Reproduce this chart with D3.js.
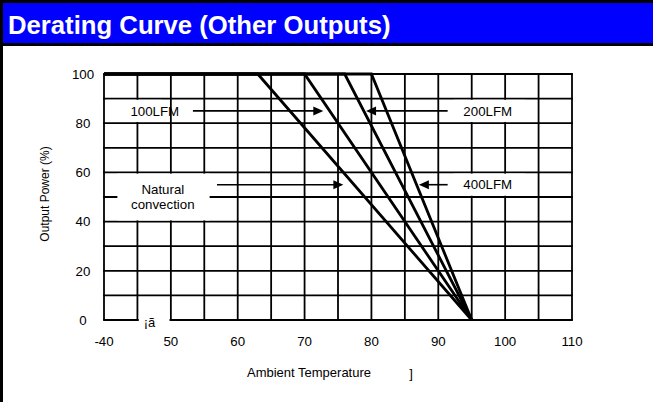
<!DOCTYPE html>
<html>
<head>
<meta charset="utf-8">
<script src="https://cdn.jsdelivr.net/npm/d3@7"></script>
<style>
body { margin: 0; background: #fff; }
text { font-family: "Liberation Sans", Arial, sans-serif; }
</style>
</head>
<body>
<svg width="653" height="402"></svg>
<script>
// chart values
var xTicks = [40, 50, 60, 70, 80, 90, 100, 110];
var xTickLabels = ["-40", "50", "60", "70", "80", "90", "100", "110"];
var yTicks = [0, 20, 40, 60, 80, 100];
var curveNames = ["Natural convection", "100LFM", "200LFM", "400LFM"];
var curveTemps = [[40, 63, 95], [40, 70, 95], [40, 76, 95], [40, 80, 95]];
var curvePower = [[100, 100, 0], [100, 100, 0], [100, 100, 0], [100, 100, 0]];

var svg = d3.select("svg");
var W = 653, H = 402;

// page frame + title bar
svg.append("rect").attr("x", 0).attr("y", 0).attr("width", W).attr("height", 46).attr("fill", "#000");
svg.append("rect").attr("x", 3).attr("y", 3).attr("width", W - 3).attr("height", 40).attr("fill", "#0000ff");
svg.append("rect").attr("x", 0).attr("y", 0).attr("width", 3).attr("height", H).attr("fill", "#000");
svg.append("text")
  .attr("x", 8).attr("y", 34)
  .attr("fill", "#fff")
  .style("font-size", "25.7px")
  .style("font-weight", "bold")
  .text("Derating Curve (Other Outputs)");

var x = d3.scaleLinear().domain([40, 110]).range([104, 572]);
var y = d3.scaleLinear().domain([0, 100]).range([320, 74]);

var g = svg.append("g");

// grid every 5 degrees / 10 %
var xGrid = d3.range(40, 111, 5);
var yGrid = d3.range(0, 101, 10);
g.selectAll(".vg").data(xGrid).enter().append("line")
  .attr("x1", d => x(d)).attr("x2", d => x(d))
  .attr("y1", y(0)).attr("y2", y(100))
  .attr("stroke", "#000").attr("stroke-width", 1.8);
g.selectAll(".hg").data(yGrid).enter().append("line")
  .attr("x1", x(40) - 0.9).attr("x2", x(110) + 0.9)
  .attr("y1", d => y(d)).attr("y2", d => y(d))
  .attr("stroke", "#000").attr("stroke-width", 1.8);

// white boxes behind the labels (in data units)
var boxes = [
  {x0: 40.3, x1: 48.7, y0: 80.5, y1: 89.5},
  {x0: 42, x1: 55.8, y0: 40.5, y1: 59.5},
  {x0: 92.3, x1: 103, y0: 80.5, y1: 89.5},
  {x0: 92.3, x1: 103, y0: 50.5, y1: 59.5},
  {x0: 45.2, x1: 49.8, y0: -2, y1: 2}
];
g.selectAll(".box").data(boxes).enter().append("rect")
  .attr("x", d => x(d.x0)).attr("width", d => x(d.x1) - x(d.x0))
  .attr("y", d => y(d.y1)).attr("height", d => y(d.y0) - y(d.y1))
  .attr("fill", "#fff");

// derating curves
var line = d3.line().x(d => x(d[0])).y(d => y(d[1]));
g.selectAll(".curve").data(curveTemps.map((t, i) => t.map((v, j) => [v, curvePower[i][j]])))
  .enter().append("path")
  .attr("d", line)
  .attr("fill", "none")
  .attr("stroke", "#000")
  .attr("stroke-width", 2.8)
  .attr("stroke-linejoin", "miter");

// arrows + labels
var arrows = [
  {from: 53.3, to: 72.8, p: 85},
  {from: 56.9, to: 75.8, p: 55},
  {from: 91.4, to: 79.2, p: 85},
  {from: 91.4, to: 87.1, p: 55}
];
arrows.forEach(function(a) {
  var dir = a.to > a.from ? 1 : -1;
  var tx = x(a.to), ty = y(a.p);
  g.append("line")
    .attr("x1", x(a.from)).attr("x2", tx - dir * 6)
    .attr("y1", ty).attr("y2", ty)
    .attr("stroke", "#000").attr("stroke-width", 1.6);
  g.append("path")
    .attr("d", "M" + tx + "," + ty + "L" + (tx - dir * 10) + "," + (ty - 4.5) + "L" + (tx - dir * 10) + "," + (ty + 4.5) + "Z")
    .attr("fill", "#000");
});

var labels = [
  {t: 47.6, p: 85, lines: ["100LFM"]},
  {t: 48.8, p: 50, lines: ["Natural", "convection"]},
  {t: 97.4, p: 85, lines: ["200LFM"]},
  {t: 97.4, p: 55, lines: ["400LFM"]}
];
labels.forEach(function(l) {
  var n = l.lines.length;
  l.lines.forEach(function(s, i) {
    g.append("text")
      .attr("x", x(l.t))
      .attr("y", y(l.p) + 4.7 + (i - (n - 1) / 2) * 14.5)
      .attr("text-anchor", "middle")
      .style("font-size", "13.3px")
      .text(s);
  });
});

// tick labels
g.selectAll(".xt").data(xTicks).enter().append("text")
  .attr("x", d => x(d)).attr("y", 346)
  .attr("text-anchor", "middle")
  .style("font-size", "13.3px")
  .text((d, i) => xTickLabels[i]);
g.selectAll(".yt").data(yTicks).enter().append("text")
  .attr("x", 83).attr("y", d => y(d) + 4.7)
  .attr("text-anchor", "middle")
  .style("font-size", "13.3px")
  .text(d => d);

// odd degree sign leftovers from the source
g.append("text").attr("x", x(46.8)).attr("y", 327).attr("text-anchor", "middle")
  .style("font-size", "13px").text("¡ã");

// axis titles
svg.append("text").attr("x", 309).attr("y", 377).attr("text-anchor", "middle")
  .style("font-size", "13px").text("Ambient Temperature");
svg.append("text").attr("x", 411).attr("y", 378).attr("text-anchor", "middle")
  .style("font-size", "13px").text("]");
svg.append("text")
  .attr("transform", "translate(49,194) rotate(-90)")
  .attr("text-anchor", "middle")
  .style("font-size", "12px")
  .text("Output Power  (%)");
</script>
</body>
</html>
